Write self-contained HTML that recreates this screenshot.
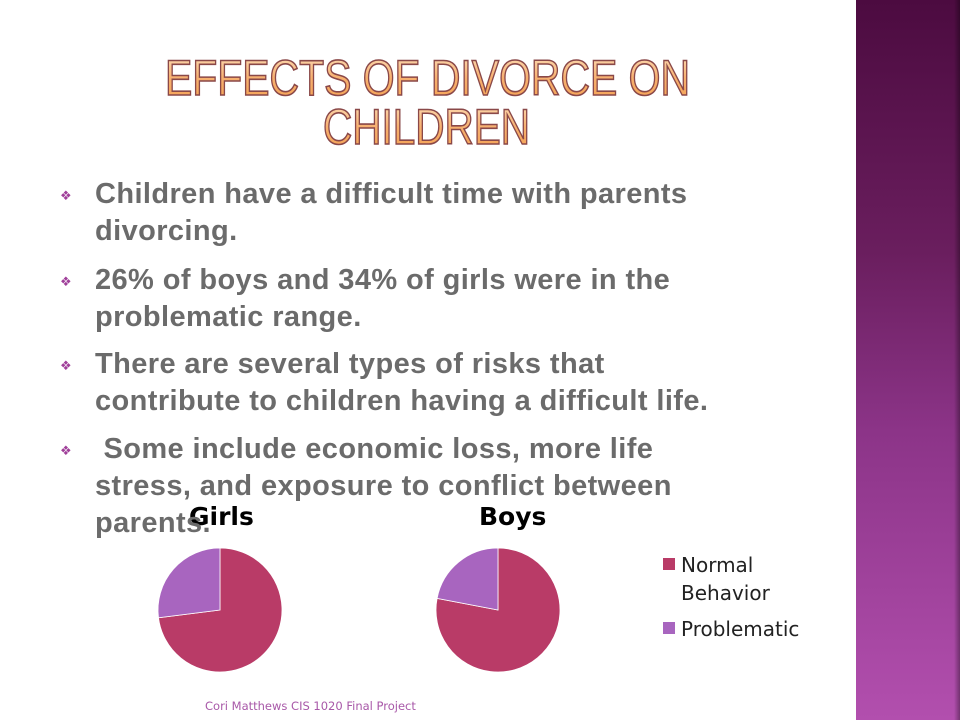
<!DOCTYPE html>
<html><head><meta charset="utf-8"><style>
body{margin:0;width:960px;height:720px;background:#fff;position:relative;overflow:hidden;font-family:"Liberation Sans",sans-serif}
.strip{position:absolute;left:856px;top:0;width:104px;height:720px;background:linear-gradient(#4c0b40,#6a1e5e 35%,#8c3488 60%,#b24fae);}
.strip:after{content:"";position:absolute;right:0;top:0;width:6px;height:100%;background:linear-gradient(90deg,rgba(0,0,0,0),rgba(0,0,0,.35))}
.bl{position:absolute;left:95px;font-weight:bold;font-size:29px;letter-spacing:0.4px;color:#6b6b6b;line-height:37px;width:650px}
.bu{position:absolute;left:60px;color:#a0409a;font-size:13px}
</style></head><body>
<div class="strip"></div>
<svg width="960" height="720" style="position:absolute;left:0;top:0">
<defs><linearGradient id="og" x1="0" y1="0" x2="0" y2="1"><stop offset="0" stop-color="#fde2c0"/><stop offset=".5" stop-color="#f7b070"/><stop offset="1" stop-color="#f3a050"/></linearGradient></defs>
<text x="165" y="95" textLength="525" lengthAdjust="spacingAndGlyphs" font-size="50" fill="url(#og)" stroke="#8a4848" stroke-width="1.6" font-family="Liberation Sans">EFFECTS OF DIVORCE ON</text>
<text x="323" y="144" textLength="207" lengthAdjust="spacingAndGlyphs" font-size="50" fill="url(#og)" stroke="#8a4848" stroke-width="1.6" font-family="Liberation Sans">CHILDREN</text>
<g id="pies"></g>
<text x="189" y="525" font-size="25" font-weight="bold" font-family="DejaVu Sans" fill="#000">Girls</text>
<text x="479" y="525" font-size="25" font-weight="bold" font-family="DejaVu Sans" fill="#000">Boys</text>
<rect x="663" y="558" width="12" height="12" fill="#b93b67"/>
<text x="681" y="572" font-size="20" font-family="DejaVu Sans" fill="#222">Normal</text>
<text x="681" y="600" font-size="20" font-family="DejaVu Sans" fill="#222">Behavior</text>
<rect x="663" y="622" width="12" height="12" fill="#a865bf"/>
<text x="681" y="636" font-size="20" font-family="DejaVu Sans" fill="#222">Problematic</text>
<text x="205" y="710" font-size="11.5" font-family="DejaVu Sans" fill="#a858a8">Cori Matthews  CIS 1020 Final Project</text>
</svg>
<div class="bu" style="top:188px">❖</div>
<div class="bl" style="top:176px">Children have a difficult time with parents divorcing.</div>
<div class="bu" style="top:274px">❖</div>
<div class="bl" style="top:262px">26% of boys and 34% of girls were in the problematic range.</div>
<div class="bu" style="top:358px">❖</div>
<div class="bl" style="top:346px">There are several types of risks that contribute to children having a difficult life.</div>
<div class="bu" style="top:443px">❖</div>
<div class="bl" style="top:431px">&nbsp;Some include economic loss, more life stress, and exposure to conflict between parents.</div>
<script>
const groups=["Girls","Boys"];
const normalValues=[73,78];
const problematicValues=[27,22];
const centersX=[220,498], cy=610, r=62;
const colors=["#b93b67","#a865bf"];
const g=document.getElementById("pies");
function pt(cx,a){return [cx+r*Math.sin(a),cy-r*Math.cos(a)];}
groups.forEach((name,i)=>{
  const vals=[normalValues[i],problematicValues[i]];
  const tot=vals[0]+vals[1];let a0=0;
  vals.forEach((v,j)=>{
    const a1=a0+v/tot*2*Math.PI;
    const p0=pt(centersX[i],a0),p1=pt(centersX[i],a1);
    const p=document.createElementNS("http://www.w3.org/2000/svg","path");
    p.setAttribute("d",`M${centersX[i]},${cy}L${p0[0]},${p0[1]}A${r},${r} 0 ${a1-a0>Math.PI?1:0} 1 ${p1[0]},${p1[1]}Z`);
    p.setAttribute("fill",colors[j]);p.setAttribute("stroke","#fff");p.setAttribute("stroke-width","0.8");
    
    
    g.appendChild(p);a0=a1;
  });
});
</script>
</body></html>
